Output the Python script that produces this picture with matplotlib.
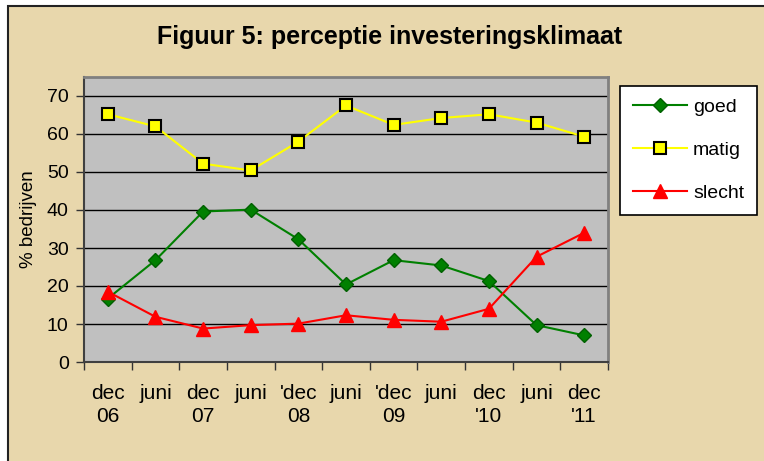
import matplotlib
matplotlib.use("Agg")
import matplotlib.pyplot as plt
from matplotlib.patches import Rectangle

periods = ["dec\n06", "juni", "dec\n07", "juni", "'dec\n08", "juni",
           "'dec\n09", "juni", "dec\n'10", "juni", "dec\n'11"]
goed = [16.7, 26.8, 39.6, 40.1, 32.3, 20.4, 26.8, 25.4, 21.3, 9.7, 7.0]
matig = [65.2, 62.0, 52.2, 50.4, 58.0, 67.5, 62.4, 64.2, 65.2, 63.0, 59.3]
slecht = [18.5, 11.9, 8.8, 9.7, 10.1, 12.3, 11.1, 10.6, 14.0, 27.7, 34.0]

plt.rcParams["font.family"] = ["Liberation Sans", "DejaVu Sans"]

fig = plt.figure(figsize=(7.64, 4.61), dpi=100)
fig.patch.set_facecolor("white")

# parchment background with dark frame on left/top
bg = Rectangle((8 / 764, -0.05), 1.1, 1 - 6 / 461 + 0.05, transform=fig.transFigure,
               facecolor="#E8D7AC", edgecolor="#222222", linewidth=1.5, zorder=-10)
fig.patches.append(bg)

ax = fig.add_axes([84 / 764, 1 - 362 / 461, (608 - 84) / 764, (362 - 77) / 461])
ax.set_facecolor("#C0C0C0")

x = list(range(len(periods)))
ax.plot(x, goed, color="#008000", lw=1.5, marker="D", ms=7,
        mfc="#008000", mec="#006000", label="goed", zorder=3)
ax.plot(x, matig, color="#FFFF00", lw=1.5, marker="s", ms=8,
        mfc="#FFFF00", mec="black", mew=1.5, label="matig", zorder=3)
ax.plot(x, slecht, color="#FF0000", lw=1.5, marker="^", ms=10,
        mfc="#FF0000", mec="#FF0000", label="slecht", zorder=3)

ax.set_xlim(-0.5, len(periods) - 0.5)
ax.set_ylim(0, 75)
ax.set_yticks(range(0, 71, 10))
ax.yaxis.grid(True, color="black", lw=1)
ax.set_axisbelow(True)

ax.set_xticks(x)
ax.set_xticklabels(periods, fontsize=15, linespacing=1.25)
ax.set_xticks([i - 0.5 for i in range(len(periods) + 1)], minor=True)
ax.tick_params(axis="x", which="major", length=0, pad=16)
ax.tick_params(axis="x", which="minor", length=6, width=1, color="#333333", direction="out")
ax.tick_params(axis="y", length=6, width=1, color="#333333", labelsize=14, pad=5)

for s in ["top", "right"]:
    ax.spines[s].set_color("#808080")
    ax.spines[s].set_linewidth(2)
for s in ["left", "bottom"]:
    ax.spines[s].set_color("#404040")
    ax.spines[s].set_linewidth(1.5)

ax.set_ylabel("% bedrijven", fontsize=13.5, labelpad=7)

fig.text(390 / 764, 1 - 37 / 461, "Figuur 5: perceptie investeringsklimaat",
         fontsize=18, fontweight="bold", ha="center", va="center")

leg = fig.legend(loc="upper left", bbox_to_anchor=(620 / 764, 1 - 86 / 461),
                 fontsize=14, frameon=True, fancybox=False, edgecolor="black",
                 facecolor="white", framealpha=1, handlelength=2.8,
                 labelspacing=1.3, borderpad=0.65, handletextpad=0.3,
                 borderaxespad=0)
leg.get_frame().set_linewidth(1.2)

fig.savefig("out.png", dpi=100, facecolor=fig.get_facecolor())
